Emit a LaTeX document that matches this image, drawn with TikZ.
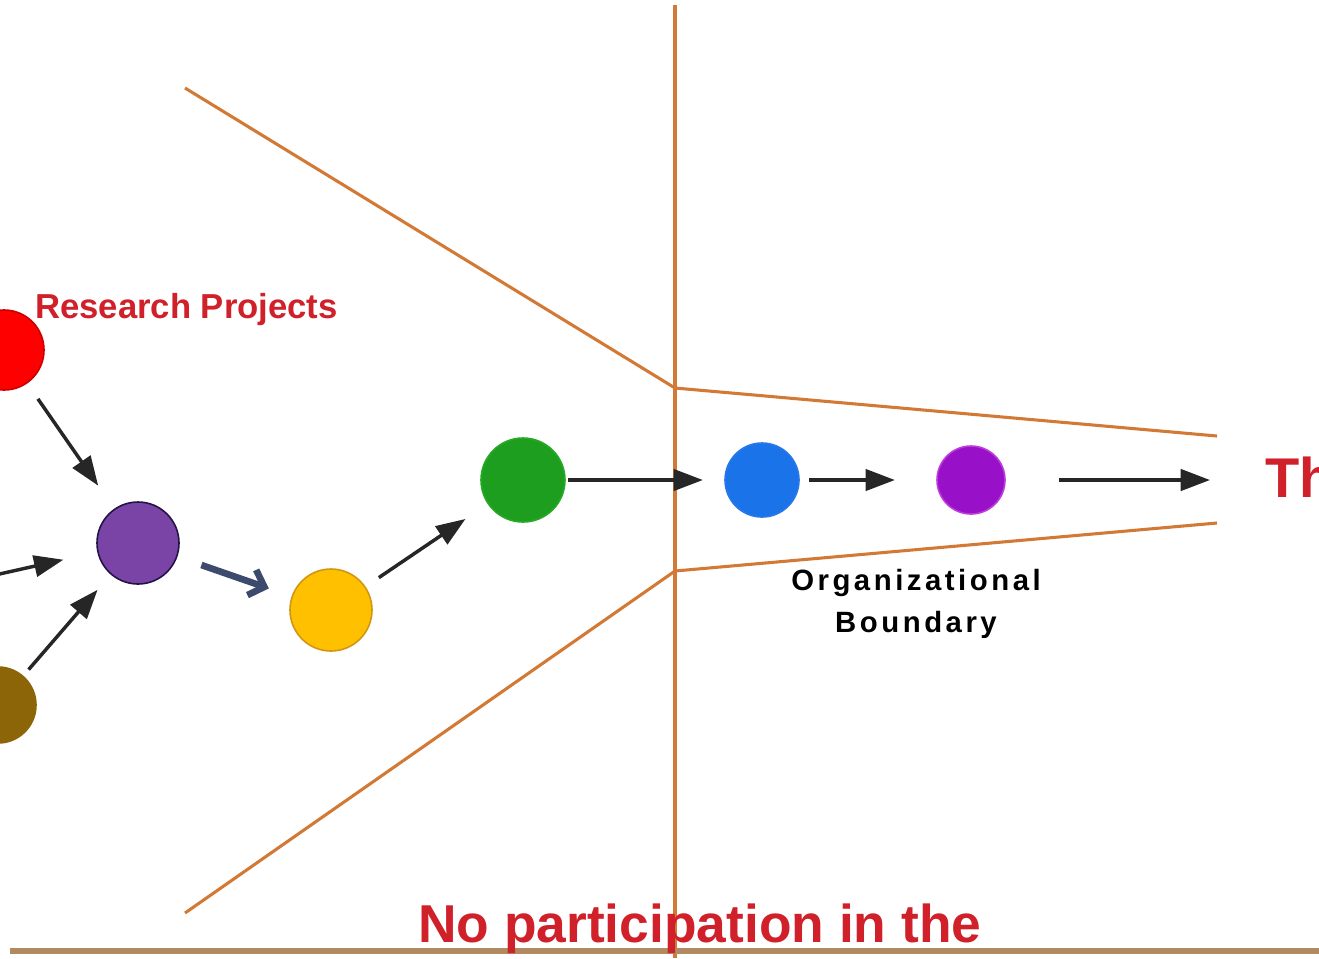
\documentclass[tikz,border=0pt]{standalone}
\usepackage{fontspec}
\setmainfont{Liberation Sans}
\usetikzlibrary{arrows.meta}
\definecolor{bnd}{HTML}{D27A35}
\definecolor{base}{HTML}{B08A60}
\definecolor{redtxt}{HTML}{D0202A}
\definecolor{chev}{HTML}{3C4A6E}
\begin{document}
\begin{tikzpicture}[x=0.75pt,y=-0.75pt,
  dot/.style={circle,minimum size={#1*0.75pt},inner sep=0pt,line width=1.2pt},
  flow/.style={line width=2.6pt,black!85,-{Triangle[length=22pt,width=16pt]}},
  bline/.style={bnd,line width=2.3pt},
  lbl/.style={font=\bfseries,inner sep=0pt}]
\useasboundingbox (0,0) rectangle (1319,958);
% boundary lines
\draw[bline] (675,5) -- (675,958);
\coordinate (ul) at (185,88);
\coordinate (um) at (675,388);
\coordinate (ur) at (1217,436);
\coordinate (ll) at (185,913);
\coordinate (lm) at (675,571);
\coordinate (lr) at (1217,523);
\draw[bline] (ul) -- (um) -- (ur);
\draw[bline] (ll) -- (lm) -- (lr);
\coordinate (b0) at (10,951);
\coordinate (b1) at (1319,951);
\draw[base,line width=4pt] (b0) -- (b1);
% dots
\node[dot=80,fill=red,draw=red!80!black] (r) at (4,350) {};
\node[dot=82,fill={rgb,255:red,122;green,68;blue,166},draw={rgb,255:red,35;green,20;blue,70}] (p) at (138,543) {};
\node[dot=76,fill={rgb,255:red,139;green,101;blue,8},draw={rgb,255:red,139;green,101;blue,8}] (br) at (-2,705) {};
\coordinate (lin) at (-5,575);
\node[dot=82,fill={rgb,255:red,255;green,192;blue,0},draw={rgb,255:red,210;green,150;blue,20}] (y) at (331,610) {};
\node[dot=84,fill={rgb,255:red,30;green,158;blue,30},draw={rgb,255:red,40;green,170;blue,40}] (g) at (523,480) {};
\node[dot=74,fill={rgb,255:red,26;green,115;blue,232},draw={rgb,255:red,40;green,120;blue,235}] (bl) at (762,480) {};
\node[dot=68,fill={rgb,255:red,152;green,16;blue,200},draw={rgb,255:red,190;green,60;blue,220}] (v) at (971,480) {};
\coordinate (out) at (1210,480);
% arrows
\draw[flow,shorten <=14pt,shorten >=21pt] (r) -- (p);
\draw[flow,shorten <=0pt,shorten >=26pt] (lin) -- (p);
\draw[flow,shorten <=6pt,shorten >=15pt] (br) -- (p);
\draw[chev,line width=5pt,-{Straight Barb[length=10pt,width=20pt]},shorten <=19pt,shorten >=18pt] (p) -- (y);
\draw[flow,shorten <=12pt,shorten >=20pt] (y) -- (g);
\draw[flow,shorten <=2pt,shorten >=16pt] (g) -- (bl);
\draw[flow,shorten <=7pt,shorten >=31pt] (bl) -- (v);
\draw[flow,shorten <=40pt,shorten >=0pt] (v) -- (out);
% labels
\node[lbl,text=redtxt,anchor=base west,font=\fontsize{26}{30}\selectfont\bfseries] (rp) at (35,318) {Research Projects};
\node[lbl,text=redtxt,anchor=base west,font=\fontsize{42}{48}\selectfont\bfseries] (th) at (1265,497) {Th};
\node[lbl,align=center,font=\fontsize{22}{32}\selectfont\bfseries\addfontfeature{LetterSpace=12}] (ob) at (916,604) {Organizational\\Boundary};
\node[lbl,text=redtxt,anchor=base west,font=\fontsize{40}{46}\selectfont\bfseries] (np) at (418,942) {No participation in the};
\end{tikzpicture}
\end{document}
